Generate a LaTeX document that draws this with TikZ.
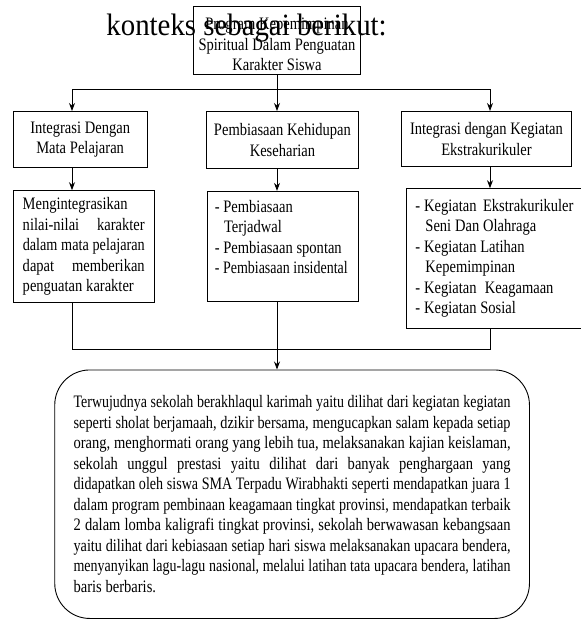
\documentclass[tikz,border=0pt]{standalone}
\usepackage{graphicx}
\usepackage{fontspec}
\setmainfont{Liberation Serif}[FakeStretch=0.83]
\newfontfamily\pagefont{Liberation Serif}[FakeStretch=0.93]
\usetikzlibrary{arrows.meta,positioning}

\newlength{\lebarbaris}
\newcommand{\rata}[2]{{\spaceskip=3.8pt plus 40pt minus 1.3pt\xspaceskip=\spaceskip
  \settowidth{\lebarbaris}{#2}%
  \ifdim\lebarbaris>#1\relax\resizebox{#1}{\height}{#2}\else\makebox[#1][s]{#2}\fi}}

\begin{document}
\begin{tikzpicture}[
    x=1pt, y=-1pt,
    line width=0.9pt,
    box/.style={rectangle, draw=black, fill=white, inner xsep=7pt, inner ysep=3pt, font=\fontsize{17.5}{20.5}\selectfont,
      execute at begin node={\spaceskip=3.8pt\xspaceskip=3.8pt}},
    judul/.style={box, inner xsep=3pt, align=center},
    isi/.style={box, align=left},
    hasil/.style={box, rounded corners=35pt, minimum width=474.7pt, minimum height=248.5pt, text width=437pt, align=left},
    arrow/.style={-{Stealth[length=8pt, width=6pt]}}
]
\useasboundingbox (0,0) rectangle (581,619);

% Program
\node[judul, text width=161pt, minimum height=67pt] (program) at (277,40.5) {\rule{0pt}{20pt}Program Kepemimpinan\\Spiritual Dalam Penguatan\\Karakter Siswa};

% Strategi
\node[judul, text width=128pt, minimum height=56pt, anchor=north west] (mapel) at (12.7,111) {Integrasi Dengan\\Mata Pelajaran};
\node[judul, text width=146.6pt, minimum height=57pt, anchor=north west] (harian) at (205.7,111) {Pembiasaan Kehidupan\\Keseharian};
\node[judul, text width=164pt, minimum height=55pt, anchor=north west] (ekskul) at (401,111) {Integrasi dengan Kegiatan\\Ekstrakurikuler};

% Rincian
\node[isi, inner xsep=9pt, text width=122.2pt, minimum height=111.4pt, below=22.3pt of mapel.south west, anchor=north west, xshift=0.6pt] (integrasi) {Mengintegrasikan\\
\rata{122pt}{nilai-nilai karakter}\\
\rata{122pt}{dalam mata pelajaran}\\
\rata{122pt}{dapat memberikan}\\
penguatan karakter};
\node[isi, text width=137pt, minimum height=110.5pt, below=22pt of harian.south west, anchor=north west, xshift=1.6pt] (pembiasaan) {- Pembiasaan\\
\hspace*{9.3pt}Terjadwal\\
- Pembiasaan spontan\\
\rata{133pt}{- Pembiasaan insidental}\rule[-19pt]{0pt}{19pt}};
\node[isi, inner xsep=9pt, text width=166pt, minimum height=139.4pt, below=21.3pt of ekskul.south west, anchor=north west, xshift=5pt] (kegiatan) {\makebox[158pt][l]{- Kegiatan\hfill Ekstrakurikuler}\\
\hspace*{10pt}Seni Dan Olahraga\\
- Kegiatan Latihan\\
\hspace*{10pt}Kepemimpinan\\
\makebox[138pt][l]{- Kegiatan\hfill Keagamaan}\\
- Kegiatan Sosial};

% Hasil
\node[hasil, anchor=north west] (hasil) at (54.3,369.5) {\rata{437pt}{Terwujudnya sekolah berakhlaqul karimah yaitu dilihat dari kegiatan kegiatan}\\
\rata{437pt}{seperti sholat berjamaah, dzikir bersama, mengucapkan salam kepada setiap}\\
\rata{437pt}{orang, menghormati orang yang lebih tua, melaksanakan kajian keislaman,}\\
\rata{437pt}{sekolah unggul prestasi yaitu dilihat dari banyak penghargaan yang}\\
\rata{437pt}{didapatkan oleh siswa SMA Terpadu Wirabhakti seperti mendapatkan juara 1}\\
\rata{437pt}{dalam program pembinaan keagamaan tingkat provinsi, mendapatkan terbaik}\\
\rata{437pt}{2 dalam lomba kaligrafi tingkat provinsi, sekolah berwawasan kebangsaan}\\
\rata{437pt}{yaitu dilihat dari kebiasaan setiap hari siswa melaksanakan upacara bendera,}\\
\rata{437pt}{menyanyikan lagu-lagu nasional, melalui latihan tata upacara bendera, latihan}\\
baris berbaris.};

% Teks halaman
\node[font=\pagefont\fontsize{31}{36}\selectfont, anchor=base west, inner sep=0pt] (konteks) at (106,35) {konteks sebagai berikut:};

% Garis
\coordinate (pisahkiri) at (72,89.3);
\coordinate (pisahkanan) at (490,89.3);
\coordinate (gabungkiri) at (72,349.3);
\coordinate (gabungkanan) at (490,349.3);

\draw (program.south) -- (program.south |- pisahkiri);
\draw (pisahkiri) -- (pisahkanan);
\draw[arrow] (pisahkiri) -- (pisahkiri |- mapel.north);
\draw[arrow] (program.south) -- (program.south |- harian.north);
\draw[arrow] (pisahkanan) -- (pisahkanan |- ekskul.north);
\draw[arrow] (mapel.south -| pisahkiri) -- (integrasi.north -| pisahkiri);
\draw[arrow] (harian.south -| program.south) -- (pembiasaan.north -| program.south);
\draw[arrow] (ekskul.south -| pisahkanan) -- (kegiatan.north -| pisahkanan);
\draw (integrasi.south -| gabungkiri) -- (gabungkiri) -- (gabungkanan) -- (kegiatan.south -| gabungkanan);
\draw[arrow] (pembiasaan.south -| program.south) -- (hasil.north -| program.south);
\end{tikzpicture}
\end{document}
